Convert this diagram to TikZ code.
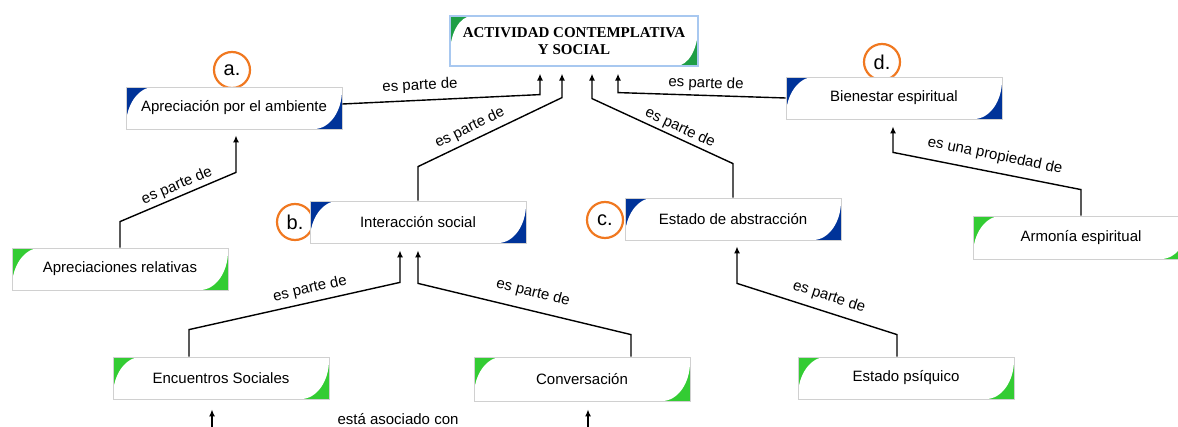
\documentclass[tikz,border=0pt]{standalone}
\usepackage{fontspec}
\setmainfont{Liberation Sans}
\newfontfamily\topfont{Liberation Serif}
\usetikzlibrary{arrows.meta,calc}
\definecolor{cblue}{HTML}{003399}
\definecolor{cgreen}{HTML}{33CC33}
\definecolor{tgreen}{HTML}{1E9E46}
\definecolor{tblue}{HTML}{A8C8F0}
\definecolor{bgray}{HTML}{D0D0D0}
\definecolor{corange}{HTML}{F07820}
\begin{document}
\begin{tikzpicture}[x=1pt,y=-1pt,
  corners/.style n args={3}{path picture={
    \fill[#1] (path picture bounding box.south west) rectangle (path picture bounding box.north east);
    \fill[white] ([xshift=#2]path picture bounding box.north west) -- (path picture bounding box.north east)
      -- ([yshift=#3]path picture bounding box.south east) arc[start angle=0,end angle=-90,x radius=#2,y radius=#3]
      -- (path picture bounding box.south west)
      -- ([yshift=-#3]path picture bounding box.north west) arc[start angle=180,end angle=90,x radius=#2,y radius=#3] -- cycle;}},
  cbox/.style={rectangle, draw=bgray, line width=0.8pt, minimum width=216pt, minimum height=42pt,
    inner sep=0pt, font=\fontsize{15}{18}\selectfont},
  bluebox/.style={cbox, corners={cblue}{28pt}{39pt}},
  greenbox/.style={cbox, corners={cgreen}{28pt}{39pt}},
  topbox/.style={rectangle, draw=tblue, line width=1.2pt, minimum width=248pt, minimum height=50pt,
    inner sep=0pt, align=center, font=\topfont\bfseries\fontsize{15}{17}\selectfont, corners={tgreen}{22pt}{38pt}},
  lettercirc/.style={circle, draw=corange, line width=2.2pt, minimum size=36pt, inner sep=0pt,
    font=\fontsize{20}{22}\selectfont},
  conn/.style={line width=1.4pt, -{Latex[length=7pt,width=6pt]}},
  lbl/.style={font=\fontsize{15}{18}\selectfont, inner sep=1pt}]
\useasboundingbox (0,0) rectangle (1178,427);
\clip (0,0) rectangle (1178,427);

% letter circles
\node[lettercirc] (ca) at (232,70) {a.};
\node[lettercirc] (cb) at (295,222) {b.};
\node[lettercirc] (cc) at (605,220) {c.};
\node[lettercirc] (cd) at (882,62) {d.};

% boxes
\node[topbox] (top) at (574,41) {ACTIVIDAD CONTEMPLATIVA\\Y SOCIAL};
\node[bluebox] (app) at (234,108) {Apreciación por el ambiente};
\node[greenbox] (rel) at (120,269) {Apreciaciones relativas};
\node[bluebox] (inter) at (418,222) {Interacción social};
\node[bluebox] (abs) at (733,219) {Estado de abstracción};
\node[bluebox] (bien) at (894,98) {Bienestar espiritual};
\node[greenbox, minimum height=43pt] (arm) at (1081,237.5) {Armonía espiritual};
\node[greenbox] (enc) at (221,378) {Encuentros Sociales};
\node[greenbox, minimum height=44pt] (conv) at (582,379) {Conversación};
\node[greenbox] (psi) at (906,378) {Estado psíquico};

% connectors
\draw[conn] ([yshift=4pt]app.east) -- ($(top.south)+(-34,28)$) -- ($(top.south)+(-34,7)$);
\draw[conn] (inter.north) -- ++(0,-34) -- ($(top.south)+(-12,31)$) -- ($(top.south)+(-12,7)$);
\draw[conn] (abs.north) -- ++(0,-34) -- ($(top.south)+(18,32)$) -- ($(top.south)+(18,7)$);
\draw[conn] (bien.west) -- ($(top.south)+(44,26)$) -- ($(top.south)+(44,7)$);
\draw[conn] (rel.north) -- ++(0,-26) -- ($(app.south)+(2,43)$) -- ($(app.south)+(2,6)$);
\draw[conn] (arm.north) -- ++(0,-26) -- ($(bien.south)+(-1,33)$) -- ($(bien.south)+(-1,7)$);
\draw[conn] ($(enc.north)+(-32,0)$) -- ++(0,-27) -- ($(inter.south)+(-18,39)$) -- ($(inter.south)+(-18,7)$);
\draw[conn] ($(conv.north)+(49,0)$) -- ++(0,-22) -- ($(inter.south)+(0,40)$) -- ($(inter.south)+(0,7)$);
\draw[conn] ($(psi.north)+(-9,0)$) -- ++(0,-22) -- ($(abs.south)+(4,43)$) -- ($(abs.south)+(4,6)$);
\coordinate (b1) at (212,445);
\coordinate (b2) at (588,445);
\draw[conn] (b1) -- ($(enc.south)+(-9,10)$);
\draw[conn] (b2) -- ($(conv.south)+(6,8)$);

% labels
\node[lbl, rotate=3] (l1) at (420,86) {es parte de};
\node[lbl, rotate=26] (l2) at (470,128) {es parte de};
\node[lbl, rotate=-25] (l3) at (680,128) {es parte de};
\node[lbl, rotate=-2] (l4) at (706,84) {es parte de};
\node[lbl, rotate=23] (l5) at (177,186) {es parte de};
\node[lbl, rotate=-11.5] (l6) at (995,156) {es una propiedad de};
\node[lbl, rotate=13] (l7) at (310,289) {es parte de};
\node[lbl, rotate=-14] (l8) at (533,293) {es parte de};
\node[lbl, rotate=-18] (l9) at (829,297) {es parte de};
\node[lbl] (l10) at (398,419) {está asociado con};
\end{tikzpicture}
\end{document}
